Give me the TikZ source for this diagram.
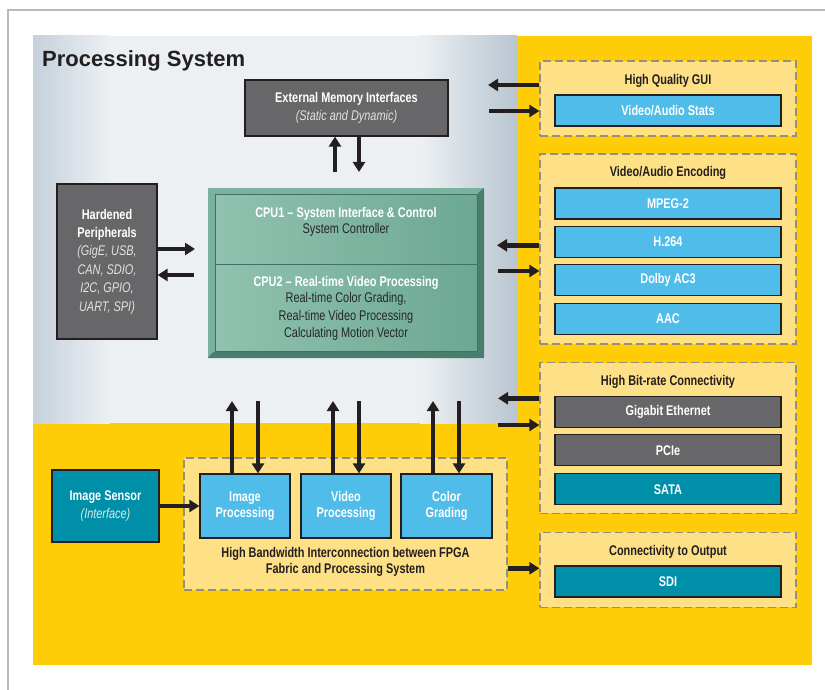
\documentclass[tikz,border=0pt]{standalone}
\usepackage{fontspec}
\setmainfont{Liberation Sans}
\newfontfamily\cnd[FakeStretch=0.78]{Liberation Sans}
\usetikzlibrary{arrows.meta}
\definecolor{yel}{HTML}{FFCD07}
\definecolor{ltyel}{HTML}{FEE086}
\definecolor{dashc}{HTML}{968E80}
\definecolor{blu}{HTML}{4FBCE9}
\definecolor{tealc}{HTML}{008FA8}
\definecolor{dgray}{HTML}{676769}
\definecolor{bline}{HTML}{231F20}
\definecolor{txt}{HTML}{231F20}
\definecolor{psL}{HTML}{C6D1DC}
\definecolor{psM}{HTML}{ECF0F3}
\definecolor{psR}{HTML}{B9C5D0}
\definecolor{framec}{HTML}{B3BCC6}
\definecolor{ltxt}{HTML}{E2E2E2}
\definecolor{snsTxt}{HTML}{D5ECF1}
\definecolor{cpuBand}{HTML}{7AB29F}
\definecolor{cpuDk}{HTML}{4A7E6C}
\definecolor{cpuL}{HTML}{90C2AF}
\definecolor{cpuR}{HTML}{6CA893}
\definecolor{cpuLine}{HTML}{3F7262}
\definecolor{cpuTxt}{HTML}{262626}
\tikzset{
 basetxt/.style={inner sep=0pt, align=center, font=\cnd\fontsize{14}{17}\selectfont},
 blk/.style={basetxt, draw=bline, line width=1.2pt, text=white},
 gbox/.style={blk, fill=dgray},
 bbox/.style={blk, fill=blu, font=\cnd\bfseries\fontsize{14}{16}\selectfont},
 gcell/.style={blk, fill=dgray, font=\cnd\bfseries\fontsize{14}{16}\selectfont},
 tcell/.style={blk, fill=tealc, font=\cnd\bfseries\fontsize{14}{16}\selectfont},
 grp/.style={draw=dashc, fill=ltyel, line width=1.2pt, dash pattern=on 8pt off 4pt, inner sep=0pt},
 gtitle/.style={basetxt, font=\cnd\bfseries\fontsize{14}{16}\selectfont, text=txt},
 arr/.style={draw=bline, line width=4.5pt, -{Triangle[length=10pt,width=12pt]}},
 cpuin/.style={draw=cpuLine, line width=1pt, left color=cpuL, right color=cpuR, inner sep=0pt},
 rowc/.style={minimum width=226pt, minimum height=31pt},
}
\begin{document}
\begin{tikzpicture}[x=1pt,y=-1pt]
\useasboundingbox (0,0) rectangle (825,690);
\fill[white] (0,0) rectangle (825,690);
\draw[framec, line width=1.5pt] (8,690) -- (8,10) -- (825,10);
% backgrounds
\fill[yel] (33,36) rectangle (812,665);
\shade[left color=psL,right color=psM] (33,36) rectangle (110,423);
\fill[psM] (109.5,36) rectangle (420.5,423);
\shade[left color=psM,right color=psR] (420,36) rectangle (517,423);
\node[anchor=base west, inner sep=0pt, font=\bfseries\fontsize{22}{24}\selectfont, text=txt] (pstitle) at (42,66.5) {Processing System};

% processing system blocks
\node[gbox, minimum width=203pt, minimum height=56pt, font=\cnd\fontsize{14}{18}\selectfont] (emi) at (346.5,108)
  {{\bfseries External Memory Interfaces}\\\textcolor{ltxt}{\itshape (Static and Dynamic)}};
\node[gbox, minimum width=100pt, minimum height=155pt, font=\cnd\fontsize{14}{18.4}\selectfont] (hp) at (107,261.5)
  {{\bfseries Hardened}\\{\bfseries Peripherals}\\\textcolor{ltxt}{\itshape (GigE, USB,}\\\textcolor{ltxt}{\itshape CAN, SDIO,}\\\textcolor{ltxt}{\itshape I2C, GPIO,}\\\textcolor{ltxt}{\itshape UART, SPI)}};

% CPU block
\fill[cpuBand] (208,188) rectangle (484,358);
\fill[cpuDk] (484,188) -- (484,358) -- (208,358) -- (213,352) -- (478,352) -- (478,193) -- cycle;
\node[cpuin, minimum width=262pt, minimum height=69pt] (cpu1) at (346,229.5) {};
\node[cpuin, minimum width=262pt, minimum height=87pt] (cpu2) at (346,307.5) {};
\node[basetxt, font=\cnd\bfseries\fontsize{14}{16}\selectfont, text=white] (cpu1a) at (346,214) {CPU1 – System Interface \& Control};
\node[basetxt, text=cpuTxt] (cpu1b) at (346,230) {System Controller};
\node[basetxt, font=\cnd\bfseries\fontsize{14}{16}\selectfont, text=white] (cpu2a) at (346,283) {CPU2 – Real-time Video Processing};
\node[basetxt, text=cpuTxt, font=\cnd\fontsize{14}{17.5}\selectfont] (cpu2b) at (346,316.5) {Real-time Color Grading,\\Real-time Video Processing\\Calculating Motion Vector};

% right side groups
\node[grp, minimum width=256pt, minimum height=75pt] (gui) at (668,98.5) {};
\node[gtitle] (guit) at (668,81) {High Quality GUI};
\node[bbox, rowc] (stats) at (668,110.5) {Video/Audio Stats};

\node[grp, minimum width=256pt, minimum height=190pt] (enc) at (668,249) {};
\node[gtitle] (enct) at (668,173) {Video/Audio Encoding};
\node[bbox, rowc] (mpeg) at (668,203.5) {MPEG-2};
\node[bbox, rowc] (h264) at (668,242) {H.264};
\node[bbox, rowc] (ac3) at (668,280.3) {Dolby AC3};
\node[bbox, rowc] (aac) at (668,318.8) {AAC};

\node[grp, minimum width=256pt, minimum height=150.6pt] (bit) at (668,438) {};
\node[gtitle] (bitt) at (668,382) {High Bit-rate Connectivity};
\node[gcell, rowc] (gbe) at (668,412) {Gigabit Ethernet};
\node[gcell, rowc] (pcie) at (668,450.3) {PCIe};
\node[tcell, rowc] (sata) at (668,489.2) {SATA};

\node[grp, minimum width=256pt, minimum height=75pt] (out) at (668,569.8) {};
\node[gtitle] (outt) at (668,551.7) {Connectivity to Output};
\node[tcell, rowc] (sdi) at (668,581.5) {SDI};

% FPGA interconnect
\node[grp, minimum width=323pt, minimum height=132pt] (fpga) at (345.5,524) {};
\node[bbox, minimum width=90pt, minimum height=64pt] (ip) at (245,506) {Image\\Processing};
\node[bbox, minimum width=90pt, minimum height=64pt] (vp) at (346,506) {Video\\Processing};
\node[bbox, minimum width=91pt, minimum height=64pt] (cg) at (446.5,506) {Color\\Grading};
\node[gtitle] (fpgat) at (345.5,562) {High Bandwidth Interconnection between FPGA\\Fabric and Processing System};

\node[blk, fill=tealc, minimum width=107pt, minimum height=72pt, font=\cnd\fontsize{14}{18}\selectfont] (sensor) at (105.5,506)
  {{\bfseries Image Sensor}\\\textcolor{snsTxt}{\itshape (Interface)}};

% connectors
\coordinate (m1) at (335,172);
\coordinate (m2) at (359,172);
\draw[arr] (m1) -- (m1 |- emi.south);
\draw[arr] (m2 |- emi.south) -- (m2);

\coordinate (h1) at (195,249);
\coordinate (h2) at (194,275);
\draw[arr] (h1 -| hp.east) -- (h1);
\draw[arr] (h2) -- (h2 -| hp.east);

\coordinate (g1) at (488,85);
\coordinate (g2) at (489,111);
\draw[arr] (g1 -| gui.west) -- (g1);
\draw[arr] (g2) -- (g2 -| gui.west);

\coordinate (e1) at (497,245.3);
\coordinate (e2) at (498,271);
\draw[arr] (e1 -| enc.west) -- (e1);
\draw[arr] (e2) -- (e2 -| enc.west);

\coordinate (b1) at (498,398.3);
\coordinate (b2) at (498,425);
\draw[arr] (b1 -| bit.west) -- (b1);
\draw[arr] (b2) -- (b2 -| bit.west);

\coordinate (o1) at (520,568.3);
\draw[arr] (o1 -| fpga.east) -- (o1 -| out.west);

\draw[arr] (sensor) -- (ip);

\coordinate (v1) at (232,401);
\coordinate (v2) at (258,401);
\coordinate (v3) at (333,401);
\coordinate (v4) at (359,401);
\coordinate (v5) at (433,401);
\coordinate (v6) at (459,401);
\draw[arr] (v1 |- ip.north) -- (v1);
\draw[arr] (v2) -- (v2 |- ip.north);
\draw[arr] (v3 |- vp.north) -- (v3);
\draw[arr] (v4) -- (v4 |- vp.north);
\draw[arr] (v5 |- cg.north) -- (v5);
\draw[arr] (v6) -- (v6 |- cg.north);
\end{tikzpicture}
\end{document}
